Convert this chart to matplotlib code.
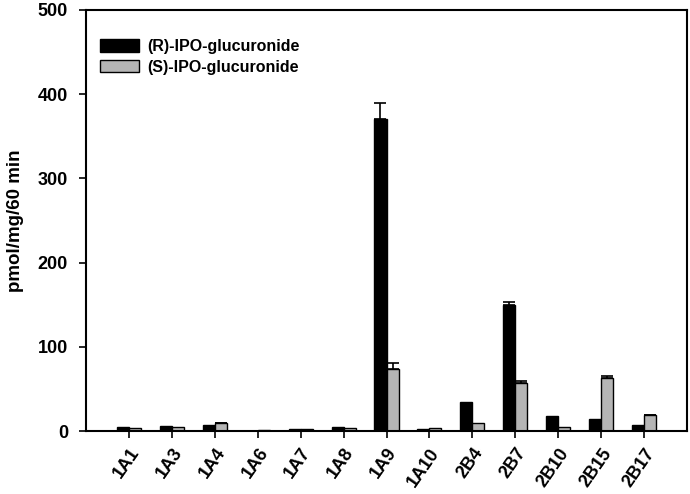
import matplotlib
matplotlib.use("Agg")
import matplotlib.pyplot as plt
import numpy as np

categories = ["1A1", "1A3", "1A4", "1A6", "1A7", "1A8", "1A9", "1A10",
              "2B4", "2B7", "2B10", "2B15", "2B17"]
r_values = [4.7, 6.3, 7.1, 0.3, 2.4, 4.7, 370, 2.4, 34.8, 149.5, 17.8, 14.6, 6.7]
r_errors = [0, 0, 0, 0, 0, 0, 19, 0, 0, 3.2, 0, 0, 0]
s_values = [3.6, 4.7, 9.5, 1.0, 2.0, 4.0, 73.6, 3.5, 9.9, 56.6, 4.5, 63.3, 18.6]
s_errors = [0, 0, 0.6, 0, 0, 0, 7.4, 0, 0, 2.8, 0, 2.6, 0.5]
series_labels = ["(R)-IPO-glucuronide", "(S)-IPO-glucuronide"]

plt.rcParams['font.family'] = ['Liberation Sans', 'DejaVu Sans']
plt.rcParams['font.weight'] = 'bold'

fig = plt.figure(figsize=(6.9, 4.94), dpi=100)
ax = fig.add_axes([0.1246, 0.1275, 0.8711, 0.8523])

x = np.arange(1, len(categories) + 1)
w = 0.28
ax.bar(x - w / 2, r_values, w, color='black', edgecolor='black', linewidth=1,
       label=series_labels[0])
ax.bar(x + w / 2, s_values, w, color='#b5b5b5', edgecolor='black', linewidth=1,
       label=series_labels[1])

r_arr = np.array(r_values)
s_arr = np.array(s_values)
re = np.array(r_errors)
se = np.array(s_errors)
mr = re > 0
ms = se > 0
ax.errorbar((x - w / 2)[mr], r_arr[mr], yerr=[np.zeros(mr.sum()), re[mr]],
            fmt='none', ecolor='black', elinewidth=1.2, capsize=4.5, capthick=1.2)
ax.errorbar((x + w / 2)[ms], s_arr[ms], yerr=[np.zeros(ms.sum()), se[ms]],
            fmt='none', ecolor='black', elinewidth=1.2, capsize=4.5, capthick=1.2)

ax.set_xlim(0, 14)
ax.set_ylim(0, 500)
ax.set_yticks([0, 100, 200, 300, 400, 500])
ax.set_xticks(x)
ax.set_xticklabels(categories, rotation=55, ha='right', rotation_mode='anchor',
                   fontsize=13, fontweight='bold')
ax.tick_params(axis='y', labelsize=13, direction='out', length=5, width=1.2, pad=8)
ax.tick_params(axis='x', direction='out', length=5, width=1.2, pad=5)
for lab in ax.get_yticklabels():
    lab.set_fontweight('bold')
for sp in ax.spines.values():
    sp.set_linewidth(1.5)

ax.set_ylabel("pmol/mg/60 min", fontsize=13.5, fontweight='bold', labelpad=10)

leg = ax.legend(loc='upper left', bbox_to_anchor=(0.0, 0.965), frameon=False,
                fontsize=11.5, handlelength=2.45, handleheight=0.8,
                handletextpad=0.5, labelspacing=0.35, borderpad=0.4)
for t in leg.get_texts():
    t.set_fontweight('bold')

fig.savefig("out.png", dpi=100)
